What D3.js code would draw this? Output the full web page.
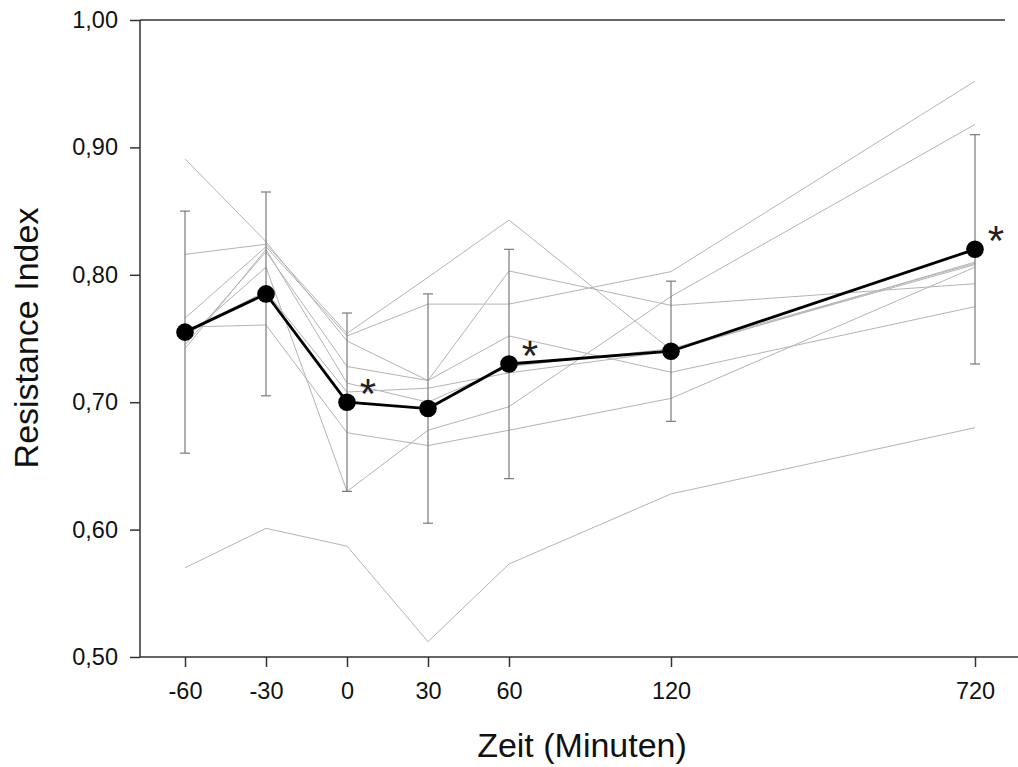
<!DOCTYPE html>
<html>
<head>
<meta charset="utf-8">
<script src="https://cdn.jsdelivr.net/npm/d3@7"></script>
<style>
  html, body { margin: 0; padding: 0; background: #fff; }
  svg { display: block; font-family: "Liberation Sans", Arial, sans-serif; }
</style>
</head>
<body>
<svg id="chart" width="1018" height="767"></svg>
<script>
// Time points (minutes relative to intervention)
const times = [-60, -30, 0, 30, 60, 120, 720];
const timeLabels = ["-60", "-30", "0", "30", "60", "120", "720"];

// Individual subjects (resistance index per time point)
const subject1 = [0.891, 0.826, 0.748, 0.717, 0.803, 0.776, 0.793];
const subject2 = [0.816, 0.824, 0.754, 0.798, 0.843, 0.741, 0.808];
const subject3 = [0.766, 0.822, 0.752, 0.777, 0.777, 0.8025, 0.952];
const subject4 = [0.742, 0.820, 0.715, 0.700, 0.728, 0.742, 0.809];
const subject5 = [0.759, 0.7606, 0.676, 0.666, 0.678, 0.703, 0.806];
const subject6 = [0.750, 0.806, 0.630, 0.678, 0.6965, 0.783, 0.918];
const subject7 = [0.745, 0.818, 0.728, 0.717, 0.752, 0.7235, 0.775];
const subject8 = [0.755, 0.787, 0.708, 0.711, 0.723, 0.740, 0.810];
const subject9 = [0.570, 0.601, 0.587, 0.512, 0.573, 0.628, 0.680];
const subjects = [subject1, subject2, subject3, subject4, subject5,
                  subject6, subject7, subject8, subject9];

// Group mean and standard deviation
const meanValues = [0.755, 0.785, 0.700, 0.695, 0.730, 0.740, 0.820];
const sdValues   = [0.095, 0.080, 0.070, 0.090, 0.090, 0.055, 0.090];

// Time points marked as significant
const significant = [0, 60, 720];

const yTicks = [0.5, 0.6, 0.7, 0.8, 0.9, 1.0];

const svg = d3.select("#chart");
const margin = { left: 140, top: 20 };
const plotH = 637;

const g = svg.append("g").attr("transform", `translate(${margin.left},${margin.top})`);

// Time axis is not proportional: early samples are spaced evenly, 720 is compressed
const x = d3.scaleLinear().domain([-60, 120, 720]).range([45, 531, 835]);
const y = d3.scaleLinear().domain([0.5, 1.0]).range([plotH, 0]);

const comma = d3.formatLocale({ decimal: ",", thousands: ".", grouping: [3], currency: ["", "€"] });
const fmt = comma.format(".2f");

const line = d3.line()
  .x((d, i) => x(times[i]))
  .y(d => y(d));

// Individual courses
g.append("g")
  .selectAll("path")
  .data(subjects)
  .join("path")
  .attr("d", line)
  .attr("fill", "none")
  .attr("stroke", "#b4b4b4")
  .attr("stroke-width", 1);

// Error bars (mean ± SD)
const eb = g.append("g").attr("stroke", "#7a7a7a").attr("stroke-width", 1.2);
times.forEach((t, i) => {
  const cx = x(t);
  const hi = y(meanValues[i] + sdValues[i]);
  const lo = y(meanValues[i] - sdValues[i]);
  eb.append("line").attr("x1", cx).attr("x2", cx).attr("y1", hi).attr("y2", lo);
  eb.append("line").attr("x1", cx - 5).attr("x2", cx + 5).attr("y1", hi).attr("y2", hi);
  eb.append("line").attr("x1", cx - 5).attr("x2", cx + 5).attr("y1", lo).attr("y2", lo);
});

// Mean course
g.append("path")
  .datum(meanValues)
  .attr("d", line)
  .attr("fill", "none")
  .attr("stroke", "#000")
  .attr("stroke-width", 2.8);

g.append("g")
  .selectAll("circle")
  .data(meanValues)
  .join("circle")
  .attr("cx", (d, i) => x(times[i]))
  .attr("cy", d => y(d))
  .attr("r", 8.8)
  .attr("fill", "#000");

// Significance markers
g.append("g")
  .selectAll("text")
  .data(significant)
  .join("text")
  .attr("x", t => x(t) + 21)
  .attr("y", t => y(meanValues[times.indexOf(t)]) + 6)
  .attr("text-anchor", "middle")
  .attr("font-size", 42)
  .attr("fill", "#222")
  .text("*");

// Frame: left, top and bottom lines
const axisColor = "#333";
g.append("line").attr("x1", 0).attr("x2", 0).attr("y1", 0).attr("y2", plotH)
  .attr("stroke", axisColor).attr("stroke-width", 1.5);
g.append("line").attr("x1", 0).attr("x2", 865).attr("y1", 0).attr("y2", 0)
  .attr("stroke", axisColor).attr("stroke-width", 1.5);
g.append("line").attr("x1", 0).attr("x2", 878).attr("y1", plotH).attr("y2", plotH)
  .attr("stroke", axisColor).attr("stroke-width", 1.5);

// Y axis
const yAxis = g.append("g")
  .call(d3.axisLeft(y).tickValues(yTicks).tickFormat(fmt).tickSize(10).tickPadding(12));
yAxis.select(".domain").remove();
yAxis.selectAll(".tick line").attr("stroke", axisColor).attr("stroke-width", 1.5);
yAxis.selectAll(".tick text").attr("font-size", 23.5).attr("fill", "#111")
  .attr("font-family", "Liberation Sans, Arial, sans-serif");

// X axis
const xAxis = g.append("g")
  .attr("transform", `translate(0,${plotH})`)
  .call(d3.axisBottom(x).tickValues(times).tickFormat((d, i) => timeLabels[i]).tickSize(10).tickPadding(15));
xAxis.select(".domain").remove();
xAxis.selectAll(".tick line").attr("stroke", axisColor).attr("stroke-width", 1.5);
xAxis.selectAll(".tick text").attr("font-size", 23.5).attr("fill", "#111")
  .attr("font-family", "Liberation Sans, Arial, sans-serif");

// Axis titles
svg.append("text")
  .attr("transform", "translate(38,338) rotate(-90)")
  .attr("text-anchor", "middle")
  .attr("font-size", 34)
  .attr("fill", "#111")
  .text("Resistance Index");

svg.append("text")
  .attr("x", 582)
  .attr("y", 757)
  .attr("text-anchor", "middle")
  .attr("font-size", 34)
  .attr("fill", "#111")
  .text("Zeit (Minuten)");
</script>
</body>
</html>
